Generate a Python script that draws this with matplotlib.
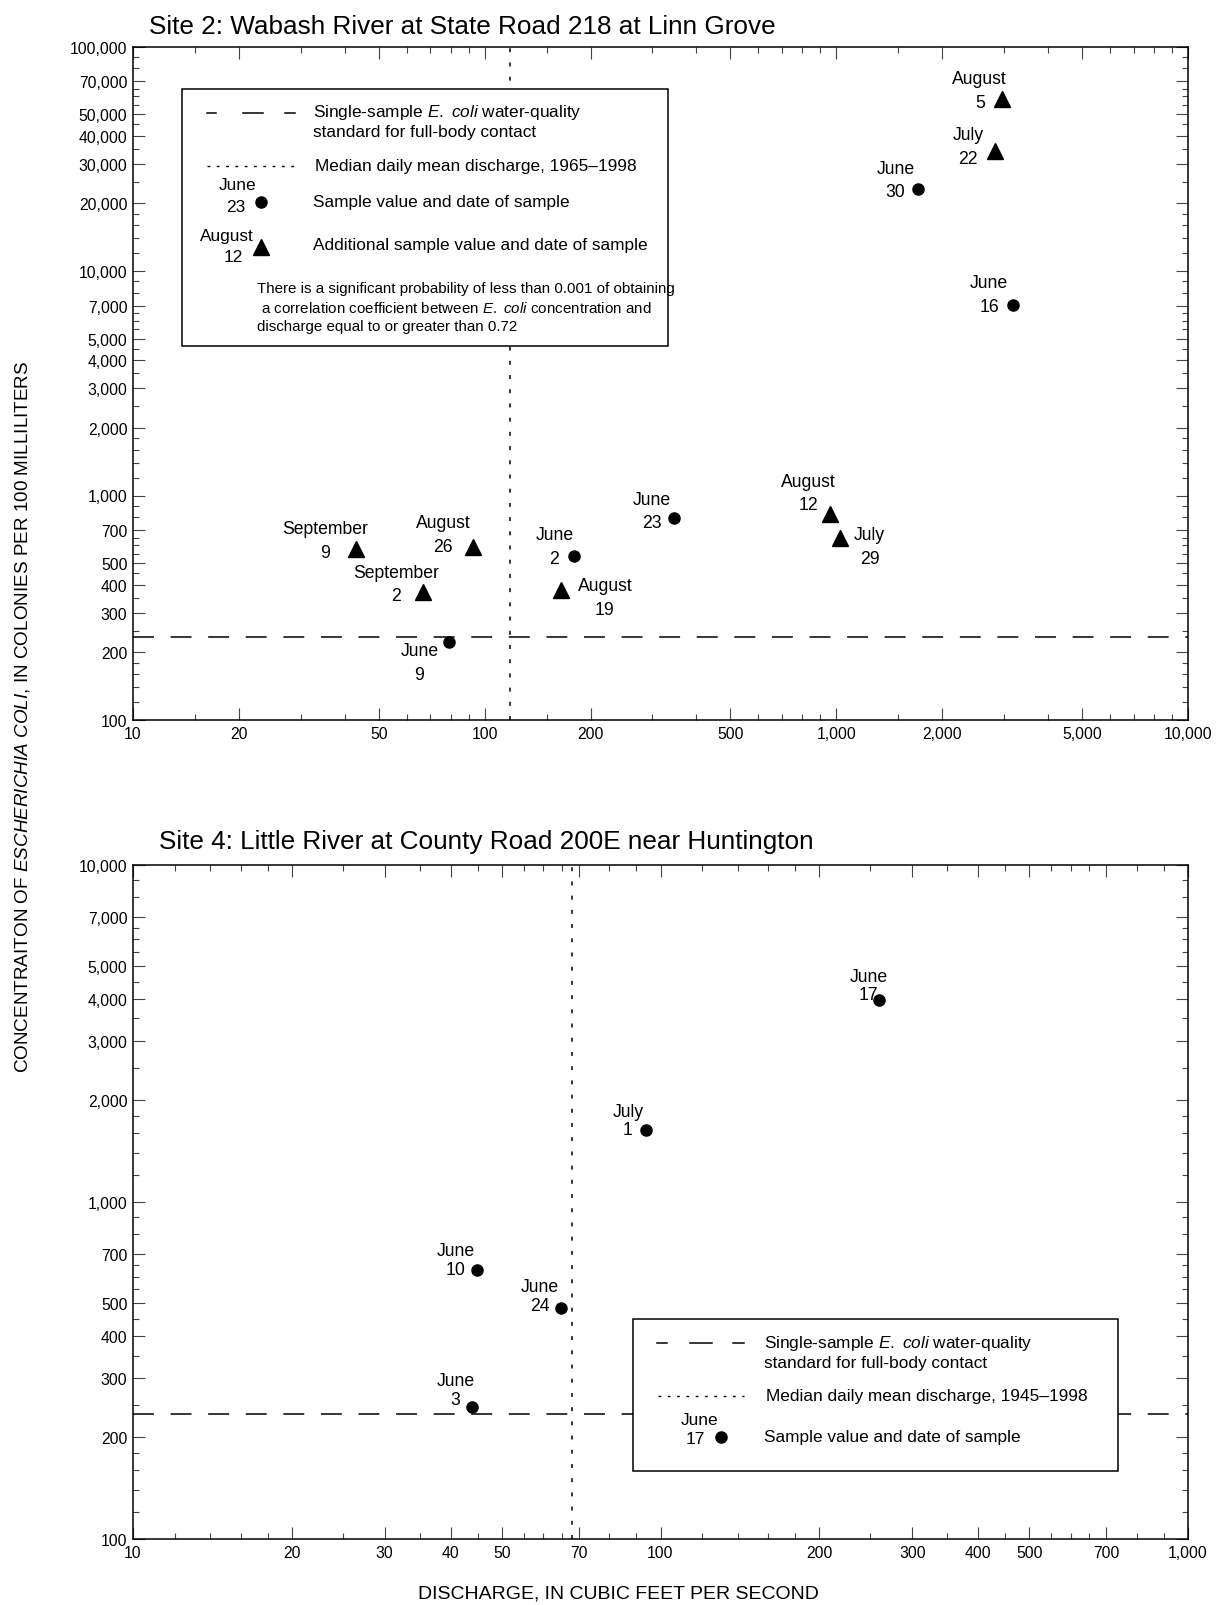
import numpy as np
import matplotlib
matplotlib.use('Agg')
import matplotlib.pyplot as plt
from matplotlib.patches import Rectangle
from matplotlib.lines import Line2D
from matplotlib.ticker import FixedLocator, FuncFormatter, NullFormatter

plt.rcParams['font.family'] = 'Liberation Sans'
plt.rcParams['mathtext.fontset'] = 'custom'
plt.rcParams['mathtext.rm'] = 'Liberation Sans'
plt.rcParams['mathtext.it'] = 'Liberation Sans:italic'

# Site 2: Wabash River -- sample values
s2_q = [345, 180, 79.2, 1706, 3177]
s2_ecoli = [791, 536, 222, 23070, 7030]
s2_dates = ['June\n23', 'June\n2', 'June\n9', 'June\n30', 'June\n16']
# Site 2: additional samples
s2_add_q = [2955, 2818, 957, 1023, 92.8, 43.1, 66.9, 164.4]
s2_add_ecoli = [58100, 34370, 824, 648, 588, 578, 370, 380]
s2_add_dates = ['August\n5', 'July\n22', 'August\n12', 'July\n29',
                'August\n26', 'September\n9', 'September\n2', 'August\n19']
s2_median_q = 118

# Site 4: Little River
s4_q = [259, 94, 44.8, 64.9, 44]
s4_ecoli = [3980, 1636, 627, 484, 247]
s4_dates = ['June\n17', 'July\n1', 'June\n10', 'June\n24', 'June\n3']
s4_median_q = 68

standard = 235  # single-sample E. coli standard

# label offsets (pixels) from each point
s2_off = [(-22, 7.5), (-20, 10), (-29.5, -20.4), (-22.5, 9.7), (-23.6, 10.8)]
s2_add_off = [(-22, 8.7), (-26.6, 4.1), (-21, 21.5), (29.7, -8.7),
              (-30, 13), (-31, 8.3), (-27.3, 8.6), (44.3, -7.6)]
s4_off = [(-9.7, 13.8), (-18.4, 9.2), (-20.5, 10.2), (-21.5, 12.3), (-16.9, 16.4)]

W, H = 1218, 1606
fig = plt.figure(figsize=(W / 100, H / 100), dpi=100)

ECOLI = r'$\mathit{E.}$ $\mathit{coli}$'


def F(x, y):
    return x / W, 1 - y / H


def setup(ax, xlim, ylim, xmaj, xmin, ymaj, ymin):
    ax.set_xscale('log')
    ax.set_yscale('log')
    ax.set_xlim(*xlim)
    ax.set_ylim(*ylim)
    fmt = FuncFormatter(lambda v, p: f'{v:,.0f}')
    ax.xaxis.set_major_locator(FixedLocator(xmaj))
    ax.xaxis.set_minor_locator(FixedLocator(xmin))
    ax.yaxis.set_major_locator(FixedLocator(ymaj))
    ax.yaxis.set_minor_locator(FixedLocator(ymin))
    ax.xaxis.set_major_formatter(fmt)
    ax.yaxis.set_major_formatter(fmt)
    ax.xaxis.set_minor_formatter(NullFormatter())
    ax.yaxis.set_minor_formatter(NullFormatter())
    ax.tick_params(which='both', direction='in', top=True, right=True,
                   labelsize=11.3, color='#444444', width=0.8, pad=4)
    ax.tick_params(which='major', length=8.4)
    ax.tick_params(which='minor', length=4.2)
    for s in ax.spines.values():
        s.set_linewidth(1.1)


def decades(mults, lo, hi):
    return [m * 10 ** k for k in range(lo, hi) for m in mults]


maj_a = (1, 2, 3, 4, 5, 7)
min_a = (1.2, 1.4, 1.6, 1.8, 2.5, 3.5, 4.5, 5.5, 6, 6.5, 8, 9)
ann_fs = 12.7

# ---------------- Site 2 ----------------
ax1 = fig.add_axes([133 / W, 1 - 721 / H, 1055 / W, 673.5 / H])
setup(ax1, (10, 10000), (100, 100000),
      decades((1, 2, 5), 1, 4) + [10000], decades((1.5, 3, 4, 6, 7, 8, 9), 1, 4),
      decades(maj_a, 2, 5) + [100000], decades(min_a, 2, 5))
ax1.axhline(standard, color='black', lw=1.1, dashes=(13.7, 10.9), dash_capstyle='butt')
ax1.axvline(s2_median_q, color='black', lw=1.1, dashes=(2.6, 6.7))
ax1.plot(s2_q, s2_ecoli, 'o', color='black', ms=8, ls='none')
ax1.plot(s2_add_q, s2_add_ecoli, '^', color='black', ms=11, ls='none')
for q, c, t, o in zip(s2_q, s2_ecoli, s2_dates, s2_off):
    ax1.annotate(t, (q, c), xytext=o, textcoords='offset pixels', ha='center',
                 va='center', fontsize=ann_fs, linespacing=1.5)
for q, c, t, o in zip(s2_add_q, s2_add_ecoli, s2_add_dates, s2_add_off):
    ax1.annotate(t, (q, c), xytext=o, textcoords='offset pixels', ha='center',
                 va='center', fontsize=ann_fs, linespacing=1.5)

fig.text(*F(149, 34), 'Site 2: Wabash River at State Road 218 at Linn Grove',
         fontsize=18.8, va='baseline', ha='left')

# legend box for site 2
x0, y0 = F(181.7, 346.7)
x1, y1 = F(668, 90)
fig.add_artist(Rectangle((x0, y0), x1 - x0, y1 - y0, transform=fig.transFigure,
                         facecolor='white', edgecolor='black', lw=1.1, zorder=1))
for a, b in [(207, 216), (243, 263), (285, 295)]:
    fig.add_artist(Line2D([a / W, b / W], [1 - 114 / H] * 2, transform=fig.transFigure,
                          color='black', lw=1.1, zorder=2))
fig.add_artist(Line2D([207 / W, 295 / W], [1 - 167 / H] * 2, transform=fig.transFigure,
                      color='black', lw=1.0, dashes=(2, 4.7), zorder=2))
fig.add_artist(Line2D([260.7 / W], [1 - 202.7 / H], transform=fig.transFigure,
                      marker='o', ms=8, color='black', zorder=2))
fig.add_artist(Line2D([260.7 / W], [1 - 248 / H], transform=fig.transFigure,
                      marker='^', ms=11, color='black', zorder=2))
leg_fs = 12.4
fig.text(*F(312.7, 113), 'Single-sample ' + ECOLI + ' water-quality',
         fontsize=leg_fs, va='center')
fig.text(*F(312.7, 133), 'standard for full-body contact', fontsize=leg_fs, va='center')
fig.text(*F(315, 166), 'Median daily mean discharge, 1965\u20131998', fontsize=leg_fs, va='center')
fig.text(*F(238, 186), 'June', fontsize=leg_fs, va='center', ha='center')
fig.text(*F(235.7, 208), '23', fontsize=leg_fs, va='center', ha='center')
fig.text(*F(312.7, 202.7), 'Sample value and date of sample', fontsize=leg_fs, va='center')
fig.text(*F(226.7, 236.7), 'August', fontsize=leg_fs, va='center', ha='center')
fig.text(*F(233, 258), '12', fontsize=leg_fs, va='center', ha='center')
fig.text(*F(312.7, 245.7), 'Additional sample value and date of sample', fontsize=leg_fs,
         va='center')
note_fs = 10.9
fig.text(*F(257.3, 289.3), 'There is a significant probability of less than 0.001 of obtaining',
         fontsize=note_fs, va='center')
fig.text(*F(257.3, 308.3), ' a correlation coefficient between ' + ECOLI + ' concentration and',
         fontsize=note_fs, va='center')
fig.text(*F(257.3, 326.7), 'discharge equal to or greater than 0.72', fontsize=note_fs,
         va='center')

# ---------------- Site 4 ----------------
ax2 = fig.add_axes([133 / W, 1 - 1540 / H, 1055 / W, 674.4 / H])
setup(ax2, (10, 1000), (100, 10000),
      decades(maj_a, 1, 3) + [1000], decades(min_a, 1, 3),
      decades(maj_a, 2, 4) + [10000], decades(min_a, 2, 4))
ax2.axhline(standard, color='black', lw=1.1, dashes=(13.7, 10.9), dash_capstyle='butt')
ax2.axvline(s4_median_q, color='black', lw=1.1, dashes=(2.6, 6.7))
ax2.plot(s4_q, s4_ecoli, 'o', color='black', ms=8, ls='none')
for q, c, t, o in zip(s4_q, s4_ecoli, s4_dates, s4_off):
    ax2.annotate(t, (q, c), xytext=o, textcoords='offset pixels', ha='center',
                 va='center', fontsize=ann_fs, linespacing=1.12)

fig.text(*F(159, 849), 'Site 4: Little River at County Road 200E near Huntington',
         fontsize=18.8, va='baseline', ha='left')

x0, y0 = F(632.7, 1471.7)
x1, y1 = F(1118, 1320)
fig.add_artist(Rectangle((x0, y0), x1 - x0, y1 - y0, transform=fig.transFigure,
                         facecolor='white', edgecolor='black', lw=1.1, zorder=1))
for a, b in [(656.7, 666.7), (690, 711.7), (733, 744)]:
    fig.add_artist(Line2D([a / W, b / W], [1 - 1344.3 / H] * 2, transform=fig.transFigure,
                          color='black', lw=1.1, zorder=2))
fig.add_artist(Line2D([658 / W, 744 / W], [1 - 1397.3 / H] * 2, transform=fig.transFigure,
                      color='black', lw=1.0, dashes=(2, 4.7), zorder=2))
fig.add_artist(Line2D([721 / W], [1 - 1438.3 / H], transform=fig.transFigure,
                      marker='o', ms=8, color='black', zorder=2))
fig.text(*F(764.3, 1344), 'Single-sample ' + ECOLI + ' water-quality',
         fontsize=leg_fs, va='center')
fig.text(*F(764.3, 1363.3), 'standard for full-body contact', fontsize=leg_fs, va='center')
fig.text(*F(765.7, 1397), 'Median daily mean discharge, 1945\u20131998', fontsize=leg_fs,
         va='center')
fig.text(*F(700, 1421), 'June', fontsize=leg_fs, va='center', ha='center')
fig.text(*F(695, 1439.3), '17', fontsize=leg_fs, va='center', ha='center')
fig.text(*F(764.3, 1438), 'Sample value and date of sample', fontsize=leg_fs, va='center')

# shared axis labels
fig.text(*F(22.5, 717),
         r'CONCENTRAITON OF $\mathit{ESCHERICHIA}$ $\mathit{COLI}$, IN COLONIES PER 100 MILLILITERS',
         rotation=90, ha='center', va='center', fontsize=13.6)
fig.text(*F(618, 1594), 'DISCHARGE, IN CUBIC FEET PER SECOND', ha='center', va='center',
         fontsize=14)

fig.savefig('out.png', dpi=100)
